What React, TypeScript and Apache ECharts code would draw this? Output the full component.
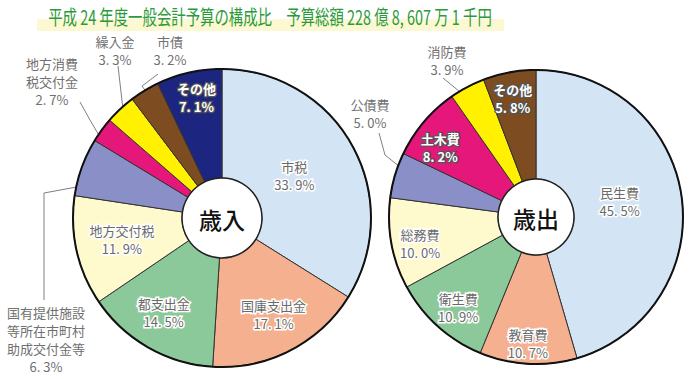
import React, { useEffect, useRef } from 'react';
import * as echarts from 'echarts';

const titleText = '平成 24 年度一般会計予算の構成比　予算総額 228 億 8, 607 万 1 千円';

const revenueNames = ['市税', '国庫支出金', '都支出金', '地方交付税', '国有提供施設等所在市町村助成交付金等', '地方消費税交付金', '繰入金', '市債', 'その他'];
const revenueLabels = ['市税', '国庫支出金', '都支出金', '地方交付税', '国有提供施設\n等所在市町村\n助成交付金等', '地方消費\n税交付金', '繰入金', '市債', 'その他'];
const revenueValues = [33.9, 17.1, 14.5, 11.9, 6.3, 2.7, 3.3, 3.2, 7.1];

const expenditureNames = ['民生費', '教育費', '衛生費', '総務費', '公債費', '土木費', '消防費', 'その他'];
const expenditureLabels = ['民生費', '教育費', '衛生費', '総務費', '公債費', '土木費', '消防費', 'その他'];
const expenditureValues = [45.5, 10.7, 10.9, 10.0, 5.0, 8.2, 3.9, 5.8];

const revenueColors = ['#d3e5f5', '#f5b090', '#8cc99a', '#fffacd', '#8b8fc8', '#e5177a', '#fff100', '#7d4c20', '#1c2580'];
const expenditureColors = ['#d3e5f5', '#f5b090', '#8cc99a', '#fffacd', '#8b8fc8', '#e5177a', '#fff100', '#7d4c20'];

const FONT = '"Noto Sans CJK JP", "Noto Sans", sans-serif';

const L = { cx: 222, cy: 218, r0: 40, r: 149 };
const R = { cx: 536, cy: 217, r0: 38, r: 147 };

// label placement per slice
const leftLayout: any[] = [
  { dx: -13, dy: 5 },
  { dx: 7, dy: 10 },
  { dx: -10, dy: 10 },
  { dx: -5, dy: 0 },
  { x: 46, y: 339, pts: [[44, 300], [44, 193], [82, 186]] },
  { x: 52, y: 81, pts: [[80, 102], [90, 120], [100, 137]] },
  { x: 115, y: 50, pts: [[118, 66], [121, 92], [124, 118]] },
  { x: 170, y: 50, pts: [[158, 74], [142, 86], [147, 93]] },
  { dx: -4, dy: -25 },
];
const rightLayout: any[] = [
  { dx: -11, dy: -2 },
  { dx: -3, dy: 31 },
  { dx: -14, dy: 19 },
  { dx: -22, dy: 9 },
  { x: 370, y: 113, pts: [[379, 133], [385, 155], [400, 167]] },
  { dx: -23, dy: -8 },
  { x: 447, y: 60, pts: [[443, 78], [454, 87], [465, 96]] },
  { dx: -6, dy: -25 },
];
const leftDark = [8];
const rightDark = [5, 7];

function fmt(v: number) {
  return v.toFixed(1).replace('.', '. ') + '%';
}

function buildData(names: string[], labels: string[], values: number[], colors: string[], layout: any[], dark: number[]) {
  return names.map((n, i) => {
    const outside = layout[i].x != null;
    const isDark = dark.includes(i);
    return {
      name: n,
      value: values[i],
      itemStyle: { color: colors[i] },
      label: outside
        ? {
            position: 'outside',
            formatter: labels[i] + '\n' + fmt(values[i]),
            color: '#707070',
            textBorderWidth: 0,
            fontSize: 13,
            lineHeight: 18,
          }
        : {
            position: 'inside',
            formatter: labels[i] + '\n' + fmt(values[i]),
            color: isDark ? '#ffffff' : '#6a6a6a',
            textBorderColor: isDark ? '#555555' : '#ffffff',
            textBorderWidth: isDark ? 2.5 : 3,
            fontWeight: isDark ? 'bold' : 'normal',
            fontSize: 13,
            lineHeight: 18,
          },
      labelLine: { show: outside, lineStyle: { color: '#808080', width: 1 } },
    };
  });
}

function makeLayout(layout: any[]) {
  return (params: any) => {
    const l = layout[params.dataIndex];
    if (l.x != null) {
      return { x: l.x, y: l.y, align: 'center', verticalAlign: 'middle', labelLinePoints: l.pts };
    }
    return { dx: l.dx, dy: l.dy };
  };
}

export default function App() {
  const ref = useRef<HTMLDivElement>(null);
  useEffect(() => {
    if (!ref.current) return;
    const chart = echarts.init(ref.current, undefined, { renderer: 'svg' });
    const pieBase = {
      type: 'pie',
      startAngle: 90,
      clockwise: true,
      avoidLabelOverlap: false,
      itemStyle: { borderColor: '#333', borderWidth: 1 },
      label: { fontFamily: FONT },
      emphasis: { disabled: true },
    };
    chart.setOption({
      animation: false,
      textStyle: { fontFamily: FONT },
      series: [
        {
          ...pieBase,
          center: [L.cx, L.cy],
          radius: [L.r0, L.r],
          data: buildData(revenueNames, revenueLabels, revenueValues, revenueColors, leftLayout, leftDark),
          labelLayout: makeLayout(leftLayout),
        },
        {
          ...pieBase,
          center: [R.cx, R.cy],
          radius: [R.r0, R.r],
          data: buildData(expenditureNames, expenditureLabels, expenditureValues, expenditureColors, rightLayout, rightDark),
          labelLayout: makeLayout(rightLayout),
        },
      ],
      graphic: [
        { type: 'rect', z: 0, shape: { x: 37, y: 19, width: 467, height: 12 }, style: { fill: '#fbf8d2' } },
        {
          type: 'text', z: 1, x: 270, y: 16, scaleX: 0.72,
          style: { text: titleText, fill: '#2b9a3a', font: `20px ${FONT}`, textAlign: 'center', textVerticalAlign: 'middle' },
        },
        { type: 'circle', z: 10, shape: { cx: L.cx, cy: L.cy, r: L.r }, style: { fill: 'none', stroke: '#111', lineWidth: 2 } },
        { type: 'circle', z: 10, shape: { cx: L.cx, cy: L.cy, r: L.r0 }, style: { fill: '#fff', stroke: '#222', lineWidth: 1.5 } },
        { type: 'circle', z: 10, shape: { cx: R.cx, cy: R.cy, r: R.r }, style: { fill: 'none', stroke: '#111', lineWidth: 2 } },
        { type: 'circle', z: 10, shape: { cx: R.cx, cy: R.cy, r: R.r0 }, style: { fill: '#fff', stroke: '#222', lineWidth: 1.5 } },
        {
          type: 'text', z: 11, x: L.cx, y: L.cy + 1,
          style: { text: '歳入', fill: '#111', font: `500 23px ${FONT}`, textAlign: 'center', textVerticalAlign: 'middle' },
        },
        {
          type: 'text', z: 11, x: R.cx, y: R.cy + 1,
          style: { text: '歳出', fill: '#111', font: `500 23px ${FONT}`, textAlign: 'center', textVerticalAlign: 'middle' },
        },
      ],
    });
    return () => chart.dispose();
  }, []);
  return <div ref={ref} style={{ width: 690, height: 379, position: 'absolute', left: 0, top: 0 }} />;
}
